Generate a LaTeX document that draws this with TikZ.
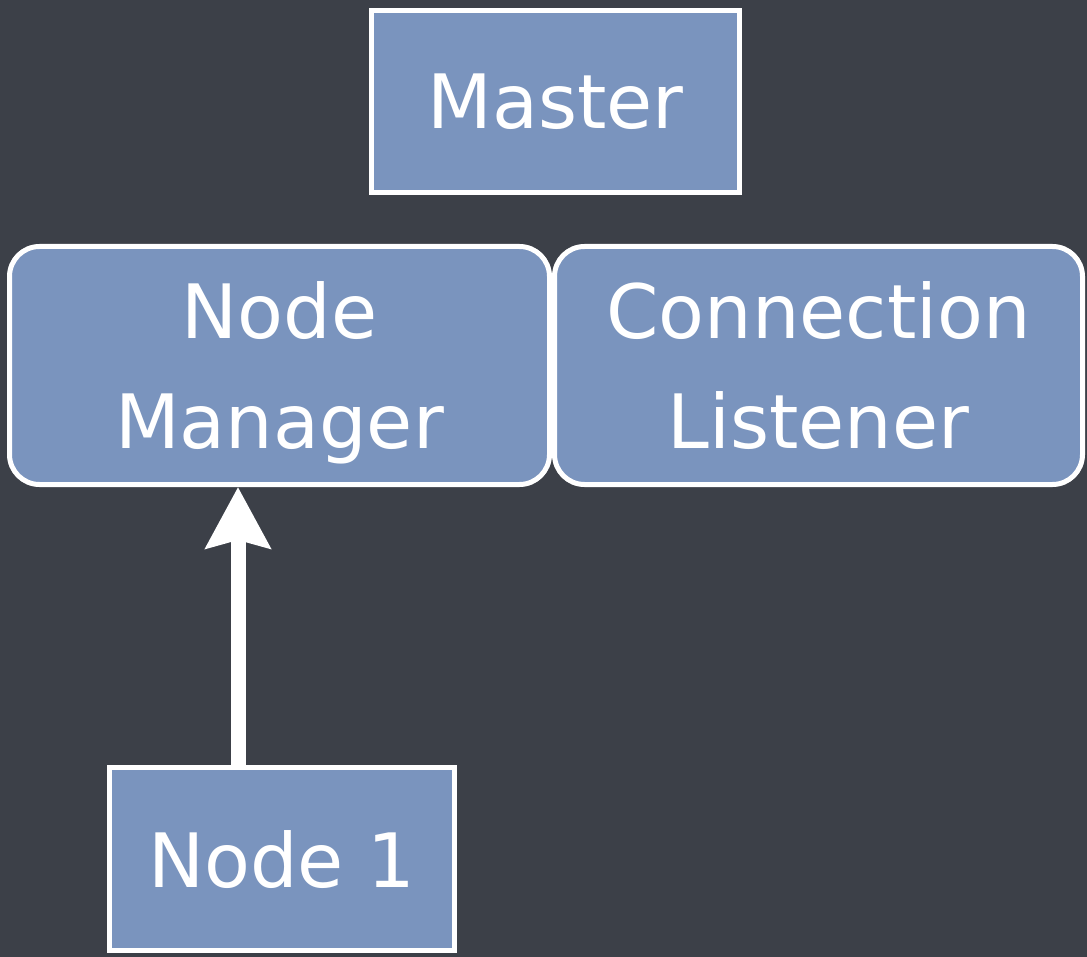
\documentclass[tikz,border=0pt]{standalone}
\usepackage{fontspec}
\setmainfont{DejaVu Sans}
\usetikzlibrary{arrows.meta}
\definecolor{slate}{RGB}{60,64,72}
\definecolor{boxblue}{RGB}{122,148,190}
\begin{document}
\begin{tikzpicture}[x=1pt,y=-1pt,
  box/.style={draw=white, line width=5pt, fill=boxblue, text=white,
    font=\fontsize{75}{110}\selectfont, align=center, inner sep=0pt, text depth=0pt},
  rbox/.style={box, rounded corners=30pt},
  link/.style={draw=white, line width=15pt, -{Stealth[width=64pt,length=61pt,inset=8pt]}}]
% chalkboard background
\fill[slate] (0,0) rectangle (1087,957);
\useasboundingbox (0,0) rectangle (1087,957);
% components
\node[box, minimum width=368pt, minimum height=182pt] (master) at (555.5,101.5) {Master};
\node[rbox, minimum width=540pt, minimum height=238pt] (nm) at (279.5,365.5) {Node\\Manager};
\node[rbox, minimum width=528pt, minimum height=238pt] (cl) at (818.5,365.5) {Connection\\Listener};
\node[box, minimum width=345pt, minimum height=183pt] (n1) at (282,859) {Node 1};
% registration
\draw[link] ([xshift=-44pt]n1.north) -- ([xshift=-41.5pt]nm.south);
\end{tikzpicture}
\end{document}
